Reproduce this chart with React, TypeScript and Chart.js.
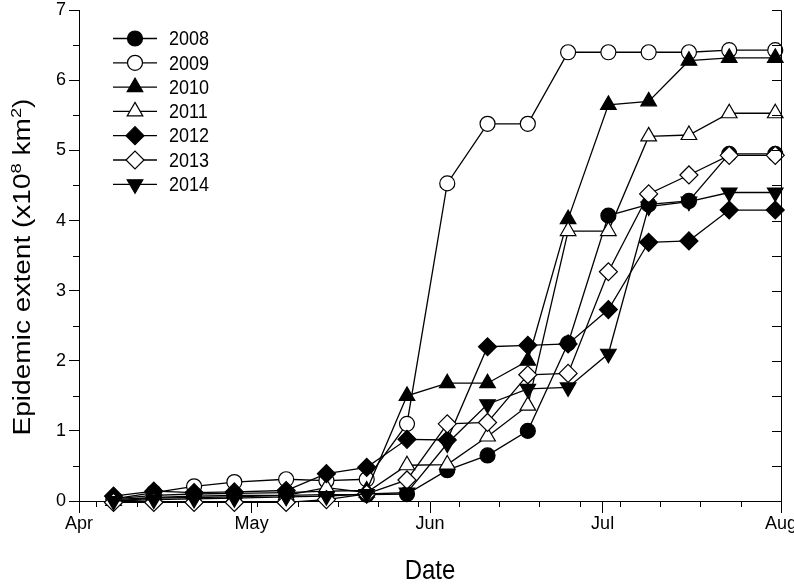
import { useEffect, useRef } from 'react';
import { Chart, registerables } from 'chart.js';
import { drawPoint } from 'chart.js/helpers';

Chart.register(...registerables);

// Days after 1 April
const days = [6, 13, 20, 27, 36, 43, 50, 57, 64, 71, 78, 85, 92, 99, 106, 113, 121];
const monthTicks = [0, 30, 61, 91, 122];
const monthLabels = ['Apr', 'May', 'Jun', 'Jul', 'Aug'];
const minorDayTicks = [3, 10, 17, 24, 31, 38, 45, 52, 59, 66, 73, 80, 87, 94, 101, 108, 115];
const yMinorTicks = [0.5, 1.5, 2.5, 3.5, 4.5, 5.5, 6.5];
const yRightTicks = [0, 0.5, 1, 1.5, 2, 2.5, 3, 3.5, 4, 4.5, 5, 5.5, 6, 6.5, 7];

const years = ['2008', '2009', '2010', '2011', '2012', '2013', '2014'];
const s2008 = [0.02, 0.05, 0.07, 0.08, 0.08, 0.09, 0.09, 0.1, 0.44, 0.65, 1.0, 2.25, 4.07, 4.23, 4.28, 4.95, 4.95];
const s2009 = [0.03, 0.12, 0.21, 0.27, 0.31, 0.29, 0.31, 1.1, 4.53, 5.38, 5.38, 6.4, 6.4, 6.4, 6.4, 6.43, 6.43];
const s2010 = [0.03, 0.08, 0.1, 0.11, 0.12, 0.14, 0.15, 1.5, 1.68, 1.68, 2.0, 4.02, 5.65, 5.7, 6.28, 6.32, 6.32];
const s2011 = [0.0, 0.04, 0.05, 0.06, 0.08, 0.19, 0.12, 0.51, 0.52, 0.92, 1.36, 3.85, 3.85, 5.2, 5.22, 5.53, 5.53];
const s2012 = [0.07, 0.14, 0.12, 0.13, 0.15, 0.39, 0.48, 0.88, 0.87, 2.2, 2.22, 2.24, 2.73, 3.69, 3.71, 4.15, 4.15];
const s2013 = [-0.02, -0.02, -0.02, -0.02, -0.02, 0.02, 0.1, 0.3, 1.1, 1.12, 1.8, 1.82, 3.27, 4.38, 4.65, 4.93, 4.93];
const s2014 = [0.0, 0.02, 0.03, 0.04, 0.06, 0.07, 0.1, 0.12, 0.82, 1.38, 1.6, 1.62, 2.1, 4.2, 4.27, 4.4, 4.4];
const seriesValues = [s2008, s2009, s2010, s2011, s2012, s2013, s2014];

const FONT = "'Liberation Sans', Arial, Helvetica, sans-serif";

const markerStyles = [
  { pointStyle: 'circle', fill: '#000000', radius: 7.5, rotation: 0 },
  { pointStyle: 'circle', fill: '#ffffff', radius: 7.5, rotation: 0 },
  { pointStyle: 'triangle', fill: '#000000', radius: 9, rotation: 0 },
  { pointStyle: 'triangle', fill: '#ffffff', radius: 9, rotation: 0 },
  { pointStyle: 'rectRot', fill: '#000000', radius: 9, rotation: 0 },
  { pointStyle: 'rectRot', fill: '#ffffff', radius: 9, rotation: 0 },
  { pointStyle: 'triangle', fill: '#000000', radius: 9, rotation: 180 },
];

function stretchedText(ctx: CanvasRenderingContext2D, text: string, x: number, y: number, font: string, sy: number, align: CanvasTextAlign) {
  ctx.save();
  ctx.translate(x, y);
  ctx.scale(1, sy);
  ctx.font = font;
  ctx.textAlign = align;
  ctx.textBaseline = 'middle';
  ctx.fillText(text, 0, 0);
  ctx.restore();
}

const framePlugin = {
  id: 'frameAndLegend',
  afterDatasetsDraw(chart: any) {
    const { ctx, chartArea } = chart;
    const { left, right, top, bottom } = chartArea;
    const xs = chart.scales.x;
    const ys = chart.scales.y;
    ctx.save();
    ctx.strokeStyle = '#000';
    ctx.lineWidth = 1;
    // right axis with inward ticks
    ctx.beginPath();
    ctx.moveTo(right + 0.5, top);
    ctx.lineTo(right + 0.5, bottom + 0.5);
    for (const v of yRightTicks) {
      const py = Math.round(ys.getPixelForValue(v)) + 0.5;
      ctx.moveTo(right, py);
      ctx.lineTo(right - 9, py);
    }
    // left minor ticks (outward)
    for (const v of yMinorTicks) {
      const py = Math.round(ys.getPixelForValue(v)) + 0.5;
      ctx.moveTo(left, py);
      ctx.lineTo(left - 6, py);
    }
    // bottom minor ticks (outward)
    for (const d of minorDayTicks) {
      const px = Math.round(xs.getPixelForValue(d)) + 0.5;
      ctx.moveTo(px, bottom);
      ctx.lineTo(px, bottom + 6);
    }
    ctx.stroke();

    // legend
    const lx0 = 113, lx1 = 157, mx = 135, tx = 169, y0 = 38.5, dy = 24.3;
    years.forEach((yr, i) => {
      const yy = y0 + i * dy;
      const st = markerStyles[i];
      ctx.beginPath();
      ctx.lineWidth = 1.3;
      ctx.strokeStyle = '#000';
      ctx.moveTo(lx0, yy);
      ctx.lineTo(lx1, yy);
      ctx.stroke();
      ctx.fillStyle = st.fill;
      ctx.strokeStyle = '#000';
      ctx.lineWidth = 1.2;
      drawPoint(ctx, { pointStyle: st.pointStyle as any, radius: st.radius, rotation: st.rotation, borderWidth: 1.2 }, mx, yy);
      ctx.fillStyle = '#000';
      stretchedText(ctx, yr, tx, yy + 1, `18px ${FONT}`, 1.15, 'left');
    });

    // x axis title
    ctx.fillStyle = '#000';
    stretchedText(ctx, 'Date', (left + right) / 2, 572, `24px ${FONT}`, 1.12, 'center');

    // y axis title with superscripts (text run elongated like the reference)
    ctx.save();
    ctx.translate(22, 267);
    ctx.rotate(-Math.PI / 2);
    ctx.scale(1.22, 1);
    const big = `23px ${FONT}`;
    const small = `15px ${FONT}`;
    const parts: [string, boolean][] = [
      ['Epidemic extent (x10', false],
      ['8', true],
      [' km', false],
      ['2', true],
      [')', false],
    ];
    let total = 0;
    for (const [t, sup] of parts) {
      ctx.font = sup ? small : big;
      total += ctx.measureText(t).width;
    }
    let cx = -total / 2;
    ctx.textAlign = 'left';
    ctx.textBaseline = 'alphabetic';
    for (const [t, sup] of parts) {
      ctx.font = sup ? small : big;
      ctx.fillText(t, cx, sup ? -1 : 8);
      cx += ctx.measureText(t).width;
    }
    ctx.restore();
    ctx.restore();
  },
};

export default function App() {
  const ref = useRef<HTMLCanvasElement>(null);
  useEffect(() => {
    const datasets = years.map((yr, i) => ({
      label: yr,
      data: days.map((d, j) => ({ x: d, y: seriesValues[i][j] })),
      borderColor: '#000',
      borderWidth: 1.3,
      backgroundColor: markerStyles[i].fill,
      pointBackgroundColor: markerStyles[i].fill,
      pointBorderColor: '#000',
      pointBorderWidth: 1.2,
      pointRadius: markerStyles[i].radius,
      pointHoverRadius: markerStyles[i].radius,
      pointStyle: markerStyles[i].pointStyle,
      pointRotation: markerStyles[i].rotation,
      tension: 0,
      fill: false,
      clip: false as any,
      order: years.length - i,
    }));
    const chart = new Chart(ref.current!, {
      type: 'line',
      data: { datasets: datasets as any },
      plugins: [framePlugin],
      options: {
        responsive: false,
        animation: false,
        events: [],
        layout: { padding: { left: 0, right: 13, top: 4, bottom: 0 } },
        plugins: { legend: { display: false }, tooltip: { enabled: false }, title: { display: false } },
        scales: {
          x: {
            type: 'linear',
            min: 0,
            max: 122,
            afterBuildTicks: (scale: any) => {
              scale.ticks = monthTicks.map((v) => ({ value: v }));
            },
            afterFit: (scale: any) => {
              scale.height = 83;
              scale.paddingLeft = 0;
              scale.paddingRight = 0;
            },
            ticks: {
              autoSkip: false,
              maxRotation: 0,
              minRotation: 0,
              padding: 0,
              color: '#000',
              font: { family: FONT, size: 18 },
              callback: (v: any) => {
                const k = monthTicks.indexOf(Number(v));
                return k >= 0 ? monthLabels[k] : '';
              },
            },
            grid: { display: true, drawOnChartArea: false, drawTicks: true, tickLength: 12, color: '#000', lineWidth: 1 },
            border: { display: true, color: '#000', width: 1 },
            title: { display: false },
          },
          y: {
            type: 'linear',
            min: 0,
            max: 7,
            afterFit: (scale: any) => {
              scale.width = 79;
              scale.paddingTop = 0;
              scale.paddingBottom = 0;
            },
            ticks: {
              stepSize: 1,
              padding: 3,
              color: '#000',
              font: { family: FONT, size: 18 },
            },
            grid: { display: true, drawOnChartArea: false, drawTicks: true, tickLength: 10, color: '#000', lineWidth: 1 },
            border: { display: true, color: '#000', width: 1 },
            title: { display: false },
          },
        },
      },
    });
    return () => chart.destroy();
  }, []);
  return (
    <div style={{ position: 'fixed', left: 0, top: 0, width: 794, height: 584, background: '#fff' }}>
      <canvas ref={ref} width={794} height={584} style={{ display: 'block' }} />
    </div>
  );
}
